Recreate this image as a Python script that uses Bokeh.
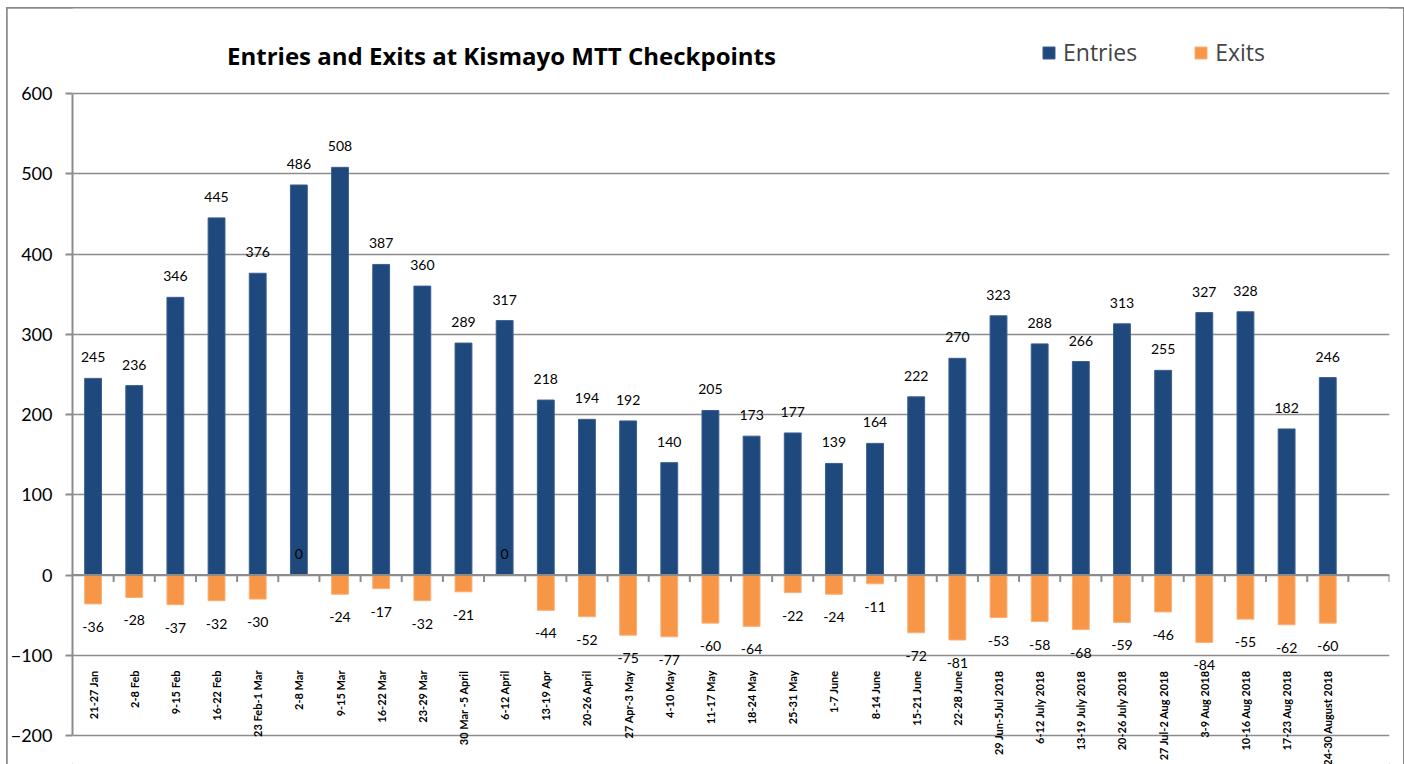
import math
from bokeh.plotting import figure
from bokeh.core.properties import value
from bokeh.models import (ColumnDataSource, LabelSet, Label, Legend, LegendItem,
                          Span, Range1d, FixedTicker)
from bokeh.embed import file_html
from bokeh.resources import INLINE

categories = ["21-27 Jan", "2-8 Feb", "9-15 Feb", "16-22 Feb", "23 Feb-1 Mar",
              "2-8 Mar", "9-15 Mar", "16-22 Mar", "23-29 Mar", "30 Mar -5 April",
              "6-12 April", "13-19 Apr", "20-26 April", "27 Apr-3 May", "4-10 May",
              "11-17 May", "18-24 May", "25-31 May", "1-7 June", "8-14 June",
              "15-21 June", "22-28 June", "29 Jun-5Jul 2018", "6-12 July 2018",
              "13-19 July 2018", "20-26 July 2018", "27 Jul-2 Aug 2018",
              "3-9 Aug 2018", "10-16 Aug 2018", "17-23 Aug 2018", "24-30 August 2018"]
entries = [245, 236, 346, 445, 376, 486, 508, 387, 360, 289, 317, 218, 194, 192, 140,
           205, 173, 177, 139, 164, 222, 270, 323, 288, 266, 313, 255, 327, 328, 182, 246]
exits = [-36, -28, -37, -32, -30, 0, -24, -17, -32, -21, 0, -44, -52, -75, -77,
         -60, -64, -22, -24, -11, -72, -81, -53, -58, -68, -59, -46, -84, -55, -62, -60]
y_ticks = [-200, -100, 0, 100, 200, 300, 400, 500, 600]

BLUE = "#1F497D"
ORANGE = "#F79646"
GRID = "#8c8c8c"
FONT = "Lato"
FONT2 = "Open Sans"

OX, OY = 7, 8                       # page position of the chart box
W, H = 1396, 756
PLOT_LEFT, PLOT_RIGHT = 62, 14      # canvas px
PLOT_TOP, PLOT_BOTTOM = 85, 727     # canvas px of 600 and -200
n_slots = len(categories) + 1       # Excel leaves one empty slot at the right
px_per_unit = (PLOT_BOTTOM - PLOT_TOP) / (y_ticks[-1] - y_ticks[0])
y_top = y_ticks[-1] + PLOT_TOP / px_per_unit
y_bot = y_ticks[0] - (H - PLOT_BOTTOM) / px_per_unit
slot_px = (W - PLOT_LEFT - PLOT_RIGHT) / n_slots

def dx(page_x):
    return (page_x - OX - PLOT_LEFT) / slot_px

def dy(page_y):
    return y_ticks[-1] - (page_y - OY - PLOT_TOP) / px_per_unit

xs = [i + 0.5 for i in range(len(categories))]
src = ColumnDataSource(dict(x=xs, cat=categories, entries=entries, exits=exits,
                            label_y=[dy(670)] * len(categories)))
neg_idx = [i for i, v in enumerate(exits) if v < 0]
zero_idx = [i for i, v in enumerate(exits) if v >= 0]
src_neg = ColumnDataSource(dict(x=[xs[i] for i in neg_idx], exits=[exits[i] for i in neg_idx]))
src_zero = ColumnDataSource(dict(x=[xs[i] for i in zero_idx], exits=[exits[i] for i in zero_idx]))

p = figure(width=W, height=H, x_range=Range1d(0, n_slots), y_range=Range1d(y_bot, y_top),
           output_backend="svg", toolbar_location=None, x_axis_location=None,
           min_border_left=PLOT_LEFT, min_border_right=PLOT_RIGHT,
           min_border_top=0, min_border_bottom=0)
p.outline_line_color = None
p.background_fill_color = "white"
p.border_fill_color = "white"
p.styles = {"margin-left": f"{OX}px", "margin-top": f"{OY}px",
            "outline": "2px solid #8a8a8a", "outline-offset": "-1px"}

ax = p.yaxis[0]
ax.ticker = FixedTicker(ticks=y_ticks)
ax.bounds = (y_ticks[0], y_ticks[-1])
ax.axis_line_color = GRID
ax.axis_line_width = 2
ax.major_tick_line_color = GRID
ax.major_tick_line_width = 2
ax.major_tick_out = 7
ax.major_tick_in = 0
ax.minor_tick_line_color = None
ax.major_label_text_font = FONT
ax.major_label_text_font_size = "18px"
ax.major_label_text_color = "black"
ax.major_label_standoff = 13

p.ygrid.grid_line_color = GRID
p.ygrid.grid_line_width = 1.6
p.xgrid.visible = False

# zero axis line with category separator ticks
p.add_layout(Span(location=0, dimension="width", line_color=GRID, line_width=2))
bounds = list(range(1, n_slots + 1))
tick_len = 7 / px_per_unit
p.segment(x0=bounds, y0=[0] * len(bounds), x1=bounds, y1=[-tick_len] * len(bounds),
          line_color=GRID, line_width=2)

r_in = p.vbar(x="x", top="entries", bottom=0, width=0.41, source=src,
              fill_color=BLUE, line_color="#3a5f8f", line_width=1)
r_out = p.vbar(x="x", top=0, bottom="exits", width=0.41, source=src,
               fill_color=ORANGE, line_color="#f9b07a", line_width=1)

common = dict(text_align="center", text_baseline="middle", text_font=value(FONT),
              text_font_size=value("14px"), text_color="black")
p.add_layout(LabelSet(x="x", y="entries", text="entries", source=src, y_offset=21, **common))
p.add_layout(LabelSet(x="x", y="exits", text="exits", source=src_neg, y_offset=-23, **common))
p.add_layout(LabelSet(x="x", y="exits", text="exits", source=src_zero, y_offset=21, **common))
p.add_layout(LabelSet(x="x", y="label_y", text="cat", source=src, angle=math.pi / 2,
                      text_align="right", text_baseline="middle", text_font=value(FONT),
                      text_font_size=value("11px"), text_font_style="bold",
                      text_color="black"))

p.add_layout(Label(x=dx(499), y=dy(55),
                   text="Entries and Exits at Kismayo MTT Checkpoints",
                   text_align="center", text_baseline="middle", text_font=FONT2,
                   text_font_style="bold", text_font_size="24px", text_color="black"))

legend = Legend(items=[LegendItem(label="Entries", renderers=[r_in]),
                       LegendItem(label="Exits", renderers=[r_out])],
                orientation="horizontal", location=(969, H - (68 - OY)),
                label_text_font=FONT2, label_text_font_size="23px",
                glyph_width=15, glyph_height=15, label_standoff=7, spacing=56,
                border_line_color=None, background_fill_alpha=0, padding=10, margin=0)
p.add_layout(legend)

open("out.html", "w").write(file_html(p, INLINE))
